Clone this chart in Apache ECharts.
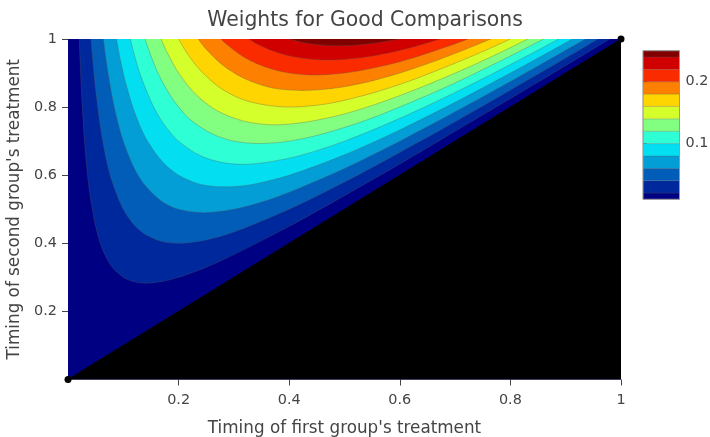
<!DOCTYPE html>
<html><head><meta charset="utf-8">
<script src="https://cdn.jsdelivr.net/npm/echarts@6/dist/echarts.min.js"></script>
<style>html,body{margin:0;padding:0;background:#fff}#c{width:710px;height:437px}</style>
</head><body><div id="c"></div>
<script>
// contour levels of the weight surface (level k bounds band k -> k+1)
const levels = [0.02,0.04,0.06,0.08,0.10,0.12,0.14,0.16,0.18,0.20,0.22,0.24];
const bandColors = ['#000083','#00289d','#015db8','#039ed5','#04def1','#2fffd5','#82ff80','#d5ff2b','#fed500','#fd8000','#fb2b00','#d10000','#800000'];
const xTicks = [0.2,0.4,0.6,0.8,1];
const yTicks = [0.2,0.4,0.6,0.8,1];
const colorbarTicks = [0.1,0.2];
const colorbarRange = [0.01,0.25];
const diagonal = [[0,0],[1,1]];

// contour lines, [first group timing, second group timing]
const contour02 = [[0.0204,1],[0.022,0.931],[0.025,0.825],[0.03,0.697],[0.035,0.606],[0.04,0.54],[0.05,0.45],[0.06,0.393],[0.07,0.356],[0.08,0.33],[0.1,0.3],[0.12,0.287],[0.141,0.283],[0.17,0.288],[0.2,0.3],[0.25,0.33],[0.3,0.367],[0.4,0.45],[0.5,0.54],[0.6,0.633],[0.7,0.729],[0.8,0.825],[0.9,0.922],[0.9796,1]];
const contour04 = [[0.0417,1],[0.045,0.934],[0.05,0.85],[0.06,0.727],[0.07,0.641],[0.08,0.58],[0.1,0.5],[0.12,0.453],[0.14,0.426],[0.17,0.405],[0.2,0.4],[0.25,0.41],[0.3,0.433],[0.4,0.5],[0.5,0.58],[0.6,0.667],[0.7,0.757],[0.8,0.85],[0.9,0.944],[0.9583,1]];
const contour06 = [[0.0641,1],[0.07,0.927],[0.08,0.83],[0.09,0.757],[0.1,0.7],[0.12,0.62],[0.14,0.569],[0.17,0.523],[0.2,0.5],[0.245,0.49],[0.3,0.5],[0.35,0.521],[0.4,0.55],[0.5,0.62],[0.6,0.7],[0.7,0.786],[0.8,0.875],[0.9,0.967],[0.9359,1]];
const contour08 = [[0.0877,1],[0.095,0.937],[0.105,0.867],[0.12,0.787],[0.14,0.711],[0.17,0.641],[0.2,0.6],[0.24,0.573],[0.283,0.566],[0.33,0.572],[0.4,0.6],[0.5,0.66],[0.6,0.733],[0.7,0.814],[0.8,0.9],[0.86,0.953],[0.9123,1]];
const contour10 = [[0.1127,1],[0.12,0.953],[0.13,0.899],[0.15,0.817],[0.17,0.758],[0.2,0.7],[0.24,0.657],[0.28,0.637],[0.316,0.632],[0.36,0.638],[0.42,0.658],[0.5,0.7],[0.6,0.767],[0.7,0.843],[0.8,0.925],[0.8873,1]];
const contour12 = [[0.1394,1],[0.15,0.95],[0.165,0.892],[0.19,0.822],[0.22,0.765],[0.26,0.722],[0.3,0.7],[0.346,0.693],[0.4,0.7],[0.46,0.721],[0.54,0.762],[0.62,0.814],[0.7,0.871],[0.78,0.934],[0.8606,1]];
const contour14 = [[0.1683,1],[0.18,0.958],[0.2,0.9],[0.23,0.839],[0.27,0.789],[0.32,0.758],[0.374,0.748],[0.43,0.756],[0.5,0.78],[0.57,0.816],[0.64,0.859],[0.72,0.914],[0.78,0.959],[0.8317,1]];
const contour16 = [[0.2,1],[0.215,0.959],[0.24,0.907],[0.28,0.851],[0.33,0.815],[0.4,0.8],[0.47,0.81],[0.55,0.841],[0.62,0.878],[0.7,0.929],[0.75,0.963],[0.8,1]];
const contour18 = [[0.2354,1],[0.25,0.97],[0.28,0.923],[0.32,0.883],[0.37,0.856],[0.424,0.849],[0.48,0.855],[0.54,0.873],[0.6,0.9],[0.66,0.933],[0.71,0.964],[0.7646,1]];
const contour20 = [[0.2764,1],[0.29,0.98],[0.32,0.945],[0.36,0.916],[0.4,0.9],[0.447,0.894],[0.5,0.9],[0.55,0.914],[0.6,0.933],[0.65,0.958],[0.69,0.98],[0.7236,1]];
const contour22 = [[0.3268,1],[0.34,0.987],[0.37,0.965],[0.41,0.947],[0.469,0.938],[0.53,0.945],[0.58,0.959],[0.63,0.979],[0.6732,1]];
const contour24 = [[0.4,1],[0.43,0.988],[0.46,0.982],[0.49,0.98],[0.52,0.982],[0.56,0.989],[0.6,1]];
const contours = [contour02,contour04,contour06,contour08,contour10,contour12,contour14,contour16,contour18,contour20,contour22,contour24];

const FONT = '"DejaVu Sans", Verdana, sans-serif';
const TXT = '#444';

const series = [];
contours.forEach(function (pts, i) {
  series.push({
    type: 'line', xAxisIndex: 0, yAxisIndex: 0, data: pts,
    smooth: 0.3, symbol: 'none', silent: true,
    lineStyle: { width: 0.6, color: 'rgba(90,90,90,0.55)' },
    areaStyle: { origin: 'end', color: bandColors[i + 1], opacity: 1 },
    z: 2
  });
});
series.push({
  type: 'line', xAxisIndex: 0, yAxisIndex: 0, data: diagonal,
  symbol: 'circle', symbolSize: 7, showSymbol: true, clip: false, silent: true,
  itemStyle: { color: '#000' }, lineStyle: { color: '#000', width: 1 },
  areaStyle: { origin: 'start', color: '#000', opacity: 1 }, z: 5
});

const cbEdges = [colorbarRange[0]].concat(levels, [colorbarRange[1]]);
const cbData = bandColors.map(function (c, i) { return [cbEdges[i], cbEdges[i + 1], i]; });
series.push({
  type: 'custom', xAxisIndex: 1, yAxisIndex: 1, data: cbData, silent: true,
  encode: { x: -1, y: [0, 1] },
  renderItem: function (params, api) {
    const lo = api.coord([0, api.value(0)]);
    const hi = api.coord([1, api.value(1)]);
    return { type: 'rect', shape: { x: lo[0], y: hi[1], width: hi[0] - lo[0], height: lo[1] - hi[1] },
      style: { fill: bandColors[api.value(2)], stroke: 'rgba(90,90,90,0.45)', lineWidth: 0.5 } };
  }
});
series.push({
  type: 'custom', xAxisIndex: 1, yAxisIndex: 1, data: [colorbarRange], silent: true, z: 4,
  encode: { x: -1, y: [0, 1] },
  renderItem: function (params, api) {
    const lo = api.coord([0, api.value(0)]);
    const hi = api.coord([1, api.value(1)]);
    return { type: 'rect', shape: { x: lo[0], y: hi[1], width: hi[0] - lo[0], height: lo[1] - hi[1] },
      style: { fill: null, stroke: '#999', lineWidth: 1 } };
  }
});

const chart = echarts.init(document.getElementById('c'), null, { renderer: 'canvas' });
chart.setOption({
  animation: false,
  backgroundColor: '#fff',
  textStyle: { fontFamily: FONT },
  title: {
    text: 'Weights for Good Comparisons', left: 360, top: 6, textAlign: 'center',
    textStyle: { fontFamily: FONT, fontSize: 20.4, fontWeight: 'normal', color: TXT }
  },
  grid: [
    { left: 68, top: 39, width: 553, height: 340.5, show: true, backgroundColor: '#000083', borderWidth: 0, containLabel: false, outerBoundsMode: 'none' },
    { left: 643, top: 50.7, width: 36.5, height: 148.6, show: false, containLabel: false, outerBoundsMode: 'none' }
  ],
  xAxis: [
    { type: 'value', gridIndex: 0, min: 0, max: 1, interval: 0.2,
      axisLine: { show: false }, splitLine: { show: false },
      axisTick: { show: true, length: 6, customValues: xTicks, lineStyle: { color: TXT, width: 1 } },
      axisLabel: { customValues: xTicks, color: TXT, fontSize: 14.4, margin: 14, fontFamily: FONT },
      name: "Timing of first group's treatment", nameLocation: 'middle', nameGap: 41,
      nameTextStyle: { color: TXT, fontSize: 16.8, fontFamily: FONT } },
    { type: 'value', gridIndex: 1, min: 0, max: 1, show: false }
  ],
  yAxis: [
    { type: 'value', gridIndex: 0, min: 0, max: 1, interval: 0.2,
      axisLine: { show: false }, splitLine: { show: false },
      axisTick: { show: true, length: 6, customValues: yTicks, lineStyle: { color: TXT, width: 1 } },
      axisLabel: { customValues: yTicks, color: TXT, fontSize: 14.4, margin: 11, fontFamily: FONT },
      name: "Timing of second group's treatment", nameLocation: 'middle', nameGap: 39, nameRotate: 90,
      nameTextStyle: { color: TXT, fontSize: 16.8, fontFamily: FONT } },
    { type: 'value', gridIndex: 1, min: colorbarRange[0], max: colorbarRange[1], position: 'right',
      axisLine: { show: false }, splitLine: { show: false },
      axisTick: { show: true, length: 4, customValues: colorbarTicks, lineStyle: { color: TXT, width: 1 } },
      axisLabel: { customValues: colorbarTicks, color: TXT, fontSize: 14.4, margin: 6, fontFamily: FONT } }
  ],
  series: series
});
</script></body></html>
